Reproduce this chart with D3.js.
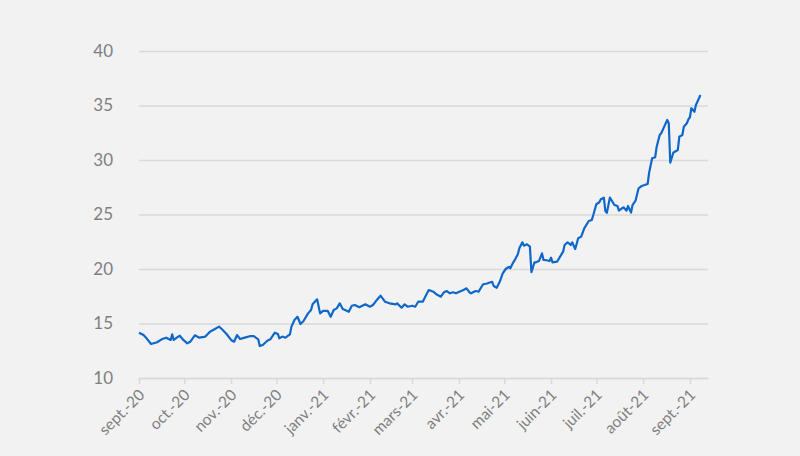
<!DOCTYPE html>
<html><head><meta charset="utf-8">
<script src="https://cdn.jsdelivr.net/npm/d3@7"></script>
<style>
html,body{margin:0;padding:0;background:#f2f2f2;}
svg{display:block;}
</style></head>
<body>
<script>
const dates = ["2020-09-01","2020-09-04","2020-09-06","2020-09-09","2020-09-13","2020-09-16","2020-09-19","2020-09-22","2020-09-23","2020-09-24","2020-09-26","2020-09-28","2020-09-30",
"2020-10-03","2020-10-05","2020-10-08","2020-10-11","2020-10-15","2020-10-18","2020-10-21","2020-10-24","2020-10-26","2020-10-29",
"2020-11-01","2020-11-03","2020-11-05","2020-11-07","2020-11-10","2020-11-14","2020-11-16","2020-11-19","2020-11-20","2020-11-22","2020-11-25","2020-11-27","2020-11-30",
"2020-12-02","2020-12-03","2020-12-05","2020-12-07","2020-12-10","2020-12-11","2020-12-13","2020-12-15","2020-12-17","2020-12-19","2020-12-22","2020-12-24","2020-12-25","2020-12-28","2020-12-30",
"2021-01-01","2021-01-04","2021-01-06","2021-01-08","2021-01-10","2021-01-12","2021-01-14","2021-01-17","2021-01-18","2021-01-20","2021-01-22","2021-01-25","2021-01-29",
"2021-02-01","2021-02-03","2021-02-05","2021-02-08","2021-02-11","2021-02-14","2021-02-18","2021-02-19","2021-02-22","2021-02-24","2021-02-26",
"2021-03-01","2021-03-03","2021-03-05","2021-03-08","2021-03-10","2021-03-12","2021-03-15","2021-03-17","2021-03-20","2021-03-22","2021-03-24","2021-03-26","2021-03-28","2021-03-30",
"2021-04-02","2021-04-04","2021-04-06","2021-04-08","2021-04-09","2021-04-12","2021-04-14","2021-04-17","2021-04-19","2021-04-23","2021-04-24","2021-04-26","2021-04-28","2021-04-30",
"2021-05-02","2021-05-04","2021-05-05","2021-05-07","2021-05-08","2021-05-10","2021-05-11","2021-05-13","2021-05-14","2021-05-16","2021-05-18","2021-05-19","2021-05-21","2021-05-22","2021-05-24","2021-05-26","2021-05-27","2021-05-29","2021-05-31",
"2021-06-01","2021-06-02","2021-06-05","2021-06-07","2021-06-09","2021-06-10","2021-06-12","2021-06-14","2021-06-15","2021-06-17","2021-06-19","2021-06-21","2021-06-23","2021-06-26","2021-06-28","2021-06-29",
"2021-07-01","2021-07-03","2021-07-04","2021-07-06","2021-07-07","2021-07-08","2021-07-10","2021-07-12","2021-07-13","2021-07-15","2021-07-16","2021-07-18","2021-07-19","2021-07-21","2021-07-22","2021-07-24","2021-07-25","2021-07-27","2021-07-29","2021-07-31",
"2021-08-02","2021-08-04","2021-08-05","2021-08-07","2021-08-09","2021-08-10","2021-08-12","2021-08-13","2021-08-15","2021-08-17","2021-08-18","2021-08-19","2021-08-21","2021-08-22","2021-08-24","2021-08-25","2021-08-27","2021-08-28","2021-08-30","2021-08-31",
"2021-09-01","2021-09-02","2021-09-04","2021-09-05","2021-09-08"];
const values = [14.16,13.94,13.64,13.12,13.28,13.55,13.70,13.49,14.00,13.49,13.70,13.88,13.55,
13.18,13.33,13.92,13.70,13.80,14.25,14.47,14.71,14.47,14.04,
13.49,13.33,13.94,13.58,13.70,13.85,13.85,13.55,12.94,13.03,13.42,13.55,14.16,
14.04,13.64,13.80,13.70,14.00,14.71,15.32,15.62,14.95,15.23,15.93,16.24,16.76,17.22,15.93,
16.15,16.17,15.62,16.24,16.39,16.85,16.33,16.15,16.08,16.63,16.70,16.49,16.76,
16.54,16.70,17.06,17.55,17.00,16.85,16.76,16.85,16.45,16.76,16.54,
16.63,16.54,17.00,17.00,17.55,18.07,17.92,17.68,17.46,17.86,17.98,17.77,17.86,17.77,
17.95,18.07,18.23,17.85,17.77,17.98,17.92,18.60,18.65,18.83,18.44,18.28,18.83,19.60,
20.00,20.20,20.06,20.61,20.83,21.35,21.90,22.45,22.14,22.27,22.05,19.70,20.61,20.61,20.73,21.44,20.83,20.80,20.73,
21.04,20.61,20.67,21.13,21.59,22.20,22.45,22.20,22.45,21.83,22.82,22.97,23.73,24.40,24.50,24.95,
25.94,26.12,26.40,26.54,25.32,25.15,26.56,26.10,25.87,25.78,25.35,25.57,25.66,25.35,25.78,25.17,25.87,26.27,27.40,27.61,
27.70,27.80,28.84,30.16,30.25,31.22,32.29,32.45,33.06,33.67,33.37,29.75,30.67,30.76,30.92,32.14,32.29,33.06,33.37,33.73,
33.92,34.75,34.43,35.05,35.96];
const yTicks = [10,15,20,25,30,35,40];
const monthTicks = ["2020-09-01","2020-10-01","2020-11-01","2020-12-01","2021-01-01","2021-02-01","2021-03-01","2021-04-01","2021-05-01","2021-06-01","2021-07-01","2021-08-01","2021-09-01"];
const monthLabels = ["sept.-20","oct.-20","nov.-20","déc.-20","janv.-21","févr.-21","mars-21","avr.-21","mai-21","juin-21","juil.-21","août-21","sept.-21"];
const xDomain = ["2020-09-01","2021-09-13"];

const W=800,H=456;
const parse = d3.utcParse("%Y-%m-%d");
const data = dates.map((d,i)=>({date:parse(d), value:values[i]}));
const svg = d3.select("body").append("svg").attr("width",W).attr("height",H);
svg.append("rect").attr("width",W).attr("height",H).attr("fill","#f2f2f2");

const x = d3.scaleUtc().domain(xDomain.map(parse)).range([139,708]);
const y = d3.scaleLinear().domain([10,40]).range([378,51]);
const font = "Lato, 'Open Sans', sans-serif";

// gridlines + y labels
const yAxis = d3.axisLeft(y).tickValues(yTicks).tickSize(-(708-139)).tickPadding(26);
const gy = svg.append("g").attr("transform","translate(139,0)").call(yAxis);
gy.select(".domain").remove();
gy.selectAll(".tick line").attr("stroke","#d9d9d9").attr("stroke-width",1.5);
gy.selectAll(".tick text").attr("fill","#7f7f7f").style("font-family",font).style("font-size","17px");

// x axis
const tickDates = monthTicks.map(parse);
const xAxis = d3.axisBottom(x).tickValues(tickDates).tickSize(6).tickSizeOuter(0)
  .tickFormat((d,i)=>monthLabels[i]);
const gx = svg.append("g").attr("transform","translate(0,378)").call(xAxis);
gx.select(".domain").attr("stroke","#d9d9d9").attr("stroke-width",1.5);
gx.selectAll(".tick line").attr("stroke","#d9d9d9").attr("stroke-width",1.5);
gx.selectAll(".tick text").attr("fill","#7f7f7f").style("font-family",font).style("font-size","15.5px")
  .attr("text-anchor","end").attr("dy",null).attr("y",0)
  .attr("transform","translate(6,18) rotate(-45)");

// line
const line = d3.line().x(d=>x(d.date)).y(d=>y(d.value));
svg.append("path").datum(data).attr("d",line).attr("fill","none")
  .attr("stroke","#0f67c9").attr("stroke-width",2.2).attr("stroke-linejoin","round");
</script>
</body></html>
